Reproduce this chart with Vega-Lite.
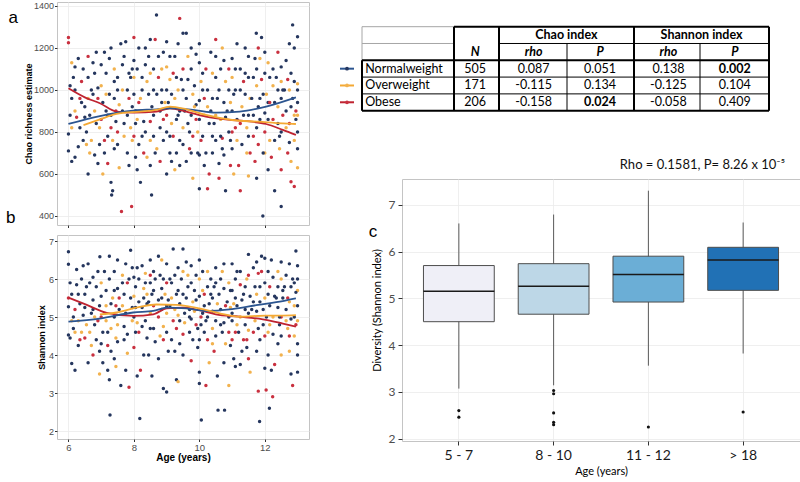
{
 "$schema": "https://vega.github.io/schema/vega-lite/v6.json",
 "background": "white",
 "padding": {"left": 5, "top": 1, "right": 0, "bottom": 0},
 "datasets": {
  "chao": [
   {"a":6.0,"v":1250,"g":"B"},{"a":6.0,"v":1225,"g":"B"},{"a":6.0,"v":790,"g":"N"},{"a":6.0,"v":710,"g":"N"},{"a":6.05,"v":880,"g":"N"},{"a":6.1,"v":1130,"g":"O"},{"a":6.1,"v":660,"g":"N"},
   {"a":6.2,"v":1110,"g":"N"},{"a":6.2,"v":1000,"g":"N"},{"a":6.25,"v":870,"g":"B"},{"a":6.3,"v":730,"g":"N"},{"a":6.2,"v":680,"g":"N"},
   {"a":6.45,"v":1100,"g":"N"},{"a":6.5,"v":920,"g":"N"},{"a":6.5,"v":870,"g":"N"},{"a":6.55,"v":800,"g":"N"},{"a":6.6,"v":1160,"g":"B"},{"a":6.6,"v":600,"g":"N"},{"a":6.55,"v":740,"g":"O"},{"a":6.6,"v":960,"g":"O"},
   {"a":6.75,"v":1130,"g":"N"},{"a":6.8,"v":1080,"g":"N"},{"a":6.8,"v":900,"g":"O"},{"a":6.85,"v":840,"g":"N"},{"a":6.9,"v":650,"g":"N"},{"a":6.8,"v":690,"g":"N"},
   {"a":7.0,"v":1120,"g":"N"},{"a":7.0,"v":1020,"g":"O"},{"a":7.05,"v":940,"g":"N"},{"a":7.0,"v":860,"g":"B"},{"a":7.1,"v":760,"g":"B"},{"a":7.05,"v":600,"g":"O"},{"a":7.1,"v":700,"g":"N"},
   {"a":7.25,"v":1150,"g":"N"},{"a":7.3,"v":1200,"g":"N"},{"a":7.25,"v":980,"g":"N"},{"a":7.3,"v":880,"g":"N"},{"a":7.3,"v":820,"g":"B"},{"a":7.3,"v":560,"g":"N"},{"a":7.35,"v":520,"g":"N"},{"a":7.32,"v":500,"g":"N"},{"a":7.2,"v":650,"g":"B"},
   {"a":7.5,"v":1060,"g":"N"},{"a":7.5,"v":1000,"g":"N"},{"a":7.55,"v":930,"g":"O"},{"a":7.5,"v":800,"g":"B"},{"a":7.5,"v":740,"g":"N"},{"a":7.6,"v":1220,"g":"N"},{"a":7.62,"v":421,"g":"B"},{"a":7.55,"v":630,"g":"O"},
   {"a":7.75,"v":1230,"g":"N"},{"a":7.8,"v":1000,"g":"N"},{"a":7.8,"v":880,"g":"N"},{"a":7.85,"v":960,"g":"B"},{"a":7.8,"v":700,"g":"N"},{"a":7.9,"v":820,"g":"O"},{"a":7.93,"v":445,"g":"B"},{"a":7.85,"v":640,"g":"N"},
   {"a":8.0,"v":1250,"g":"B"},{"a":8.0,"v":1060,"g":"O"},{"a":8.0,"v":980,"g":"N"},{"a":8.05,"v":900,"g":"N"},{"a":8.0,"v":780,"g":"B"},{"a":8.05,"v":680,"g":"N"},{"a":8.1,"v":620,"g":"N"},{"a":8.0,"v":1140,"g":"N"},
   {"a":8.25,"v":1060,"g":"N"},{"a":8.2,"v":960,"g":"O"},{"a":8.3,"v":850,"g":"N"},{"a":8.25,"v":780,"g":"N"},{"a":8.3,"v":700,"g":"B"},{"a":8.2,"v":560,"g":"N"},{"a":8.25,"v":1000,"g":"N"},
   {"a":8.5,"v":1240,"g":"N"},{"a":8.45,"v":1160,"g":"N"},{"a":8.5,"v":1080,"g":"O"},{"a":8.55,"v":920,"g":"N"},{"a":8.5,"v":850,"g":"B"},{"a":8.5,"v":760,"g":"O"},{"a":8.54,"v":500,"g":"N"},{"a":8.5,"v":640,"g":"N"},
   {"a":8.69,"v":1357,"g":"N"},{"a":8.75,"v":1160,"g":"N"},{"a":8.75,"v":1060,"g":"B"},{"a":8.7,"v":980,"g":"N"},{"a":8.8,"v":900,"g":"N"},{"a":8.8,"v":820,"g":"N"},{"a":8.7,"v":720,"g":"O"},{"a":8.8,"v":660,"g":"B"},
   {"a":9.0,"v":1230,"g":"N"},{"a":9.0,"v":1110,"g":"O"},{"a":9.0,"v":1000,"g":"N"},{"a":9.05,"v":940,"g":"N"},{"a":9.0,"v":880,"g":"B"},{"a":9.0,"v":800,"g":"N"},{"a":9.1,"v":700,"g":"N"},{"a":9.0,"v":600,"g":"N"},{"a":9.1,"v":1050,"g":"O"},
   {"a":9.25,"v":1160,"g":"N"},{"a":9.3,"v":1060,"g":"N"},{"a":9.25,"v":960,"g":"O"},{"a":9.3,"v":860,"g":"N"},{"a":9.2,"v":780,"g":"B"},{"a":9.3,"v":700,"g":"N"},{"a":9.25,"v":620,"g":"O"},
   {"a":9.4,"v":1341,"g":"B"},{"a":9.5,"v":1270,"g":"N"},{"a":9.6,"v":1270,"g":"N"},{"a":9.5,"v":1100,"g":"B"},{"a":9.5,"v":1000,"g":"N"},{"a":9.55,"v":900,"g":"N"},{"a":9.5,"v":820,"g":"O"},{"a":9.5,"v":740,"g":"N"},{"a":9.6,"v":660,"g":"N"},
   {"a":9.75,"v":1200,"g":"N"},{"a":9.75,"v":1100,"g":"N"},{"a":9.8,"v":980,"g":"O"},{"a":9.75,"v":880,"g":"N"},{"a":9.8,"v":780,"g":"B"},{"a":9.75,"v":700,"g":"N"},{"a":9.8,"v":580,"g":"O"},
   {"a":10.0,"v":1220,"g":"N"},{"a":10.0,"v":1130,"g":"N"},{"a":10.05,"v":1040,"g":"O"},{"a":10.0,"v":950,"g":"N"},{"a":10.0,"v":860,"g":"N"},{"a":10.05,"v":760,"g":"B"},{"a":10.0,"v":690,"g":"N"},{"a":10.0,"v":530,"g":"N"},
   {"a":10.2,"v":1100,"g":"B"},{"a":10.25,"v":1000,"g":"N"},{"a":10.25,"v":920,"g":"O"},{"a":10.3,"v":840,"g":"N"},{"a":10.2,"v":700,"g":"N"},{"a":10.3,"v":600,"g":"B"},{"a":10.25,"v":530,"g":"B"},
   {"a":10.5,"v":1240,"g":"B"},{"a":10.5,"v":1160,"g":"N"},{"a":10.5,"v":1060,"g":"N"},{"a":10.55,"v":960,"g":"N"},{"a":10.5,"v":880,"g":"O"},{"a":10.5,"v":760,"g":"N"},{"a":10.6,"v":650,"g":"N"},{"a":10.6,"v":580,"g":"B"},
   {"a":10.75,"v":1140,"g":"N"},{"a":10.8,"v":1040,"g":"O"},{"a":10.75,"v":940,"g":"N"},{"a":10.8,"v":870,"g":"N"},{"a":10.7,"v":770,"g":"B"},{"a":10.75,"v":690,"g":"N"},{"a":10.8,"v":520,"g":"N"},
   {"a":11.0,"v":1150,"g":"N"},{"a":11.0,"v":1060,"g":"O"},{"a":11.05,"v":980,"g":"N"},{"a":11.0,"v":900,"g":"N"},{"a":11.0,"v":800,"g":"B"},{"a":11.0,"v":720,"g":"N"},{"a":11.05,"v":600,"g":"O"},
   {"a":11.25,"v":1100,"g":"N"},{"a":11.25,"v":1000,"g":"N"},{"a":11.3,"v":920,"g":"O"},{"a":11.25,"v":840,"g":"B"},{"a":11.3,"v":740,"g":"N"},{"a":11.2,"v":640,"g":"B"},{"a":11.25,"v":520,"g":"B"},
   {"a":11.5,"v":1160,"g":"N"},{"a":11.5,"v":1060,"g":"N"},{"a":11.55,"v":960,"g":"O"},{"a":11.5,"v":880,"g":"N"},{"a":11.5,"v":780,"g":"N"},{"a":11.55,"v":700,"g":"B"},{"a":11.5,"v":590,"g":"O"},
   {"a":11.74,"v":1270,"g":"N"},{"a":11.8,"v":1200,"g":"B"},{"a":11.75,"v":1100,"g":"N"},{"a":11.75,"v":1020,"g":"O"},{"a":11.8,"v":920,"g":"N"},{"a":11.75,"v":820,"g":"N"},{"a":11.8,"v":740,"g":"B"},{"a":11.75,"v":580,"g":"N"},
   {"a":11.94,"v":400,"g":"N"},{"a":12.0,"v":1180,"g":"N"},{"a":12.0,"v":1080,"g":"N"},{"a":12.05,"v":980,"g":"O"},{"a":12.0,"v":890,"g":"N"},{"a":12.0,"v":800,"g":"B"},{"a":12.0,"v":700,"g":"O"},{"a":12.1,"v":620,"g":"N"},{"a":11.9,"v":1250,"g":"N"},
   {"a":12.25,"v":1100,"g":"N"},{"a":12.25,"v":1020,"g":"O"},{"a":12.3,"v":940,"g":"N"},{"a":12.25,"v":860,"g":"B"},{"a":12.3,"v":760,"g":"N"},{"a":12.2,"v":680,"g":"B"},{"a":12.3,"v":520,"g":"N"},
   {"a":12.5,"v":445,"g":"N"},{"a":12.5,"v":1110,"g":"N"},{"a":12.5,"v":1040,"g":"O"},{"a":12.5,"v":960,"g":"N"},{"a":12.55,"v":880,"g":"B"},{"a":12.5,"v":800,"g":"N"},{"a":12.45,"v":720,"g":"O"},{"a":12.5,"v":620,"g":"B"},
   {"a":12.85,"v":1310,"g":"N"},{"a":12.75,"v":1220,"g":"N"},{"a":12.8,"v":1080,"g":"N"},{"a":12.75,"v":1000,"g":"O"},{"a":12.8,"v":920,"g":"N"},{"a":12.8,"v":563,"g":"B"},{"a":12.75,"v":840,"g":"B"},{"a":12.75,"v":750,"g":"N"},{"a":12.8,"v":660,"g":"O"},
   {"a":13.0,"v":1254,"g":"N"},{"a":13.0,"v":1000,"g":"N"},{"a":13.0,"v":1030,"g":"O"},{"a":12.95,"v":900,"g":"B"},{"a":13.0,"v":800,"g":"N"},{"a":12.9,"v":540,"g":"B"},{"a":13.0,"v":720,"g":"N"},{"a":13.0,"v":630,"g":"O"},{"a":12.95,"v":860,"g":"N"},
   {"a":6.1,"v":960,"g":"N"},{"a":6.15,"v":1060,"g":"N"},{"a":6.35,"v":820,"g":"N"},{"a":6.4,"v":940,"g":"N"},{"a":6.4,"v":1040,"g":"B"},{"a":6.65,"v":880,"g":"N"},{"a":6.7,"v":1000,"g":"N"},{"a":6.7,"v":760,"g":"O"},{"a":6.9,"v":1010,"g":"N"},{"a":6.95,"v":820,"g":"O"},
   {"a":7.15,"v":900,"g":"N"},{"a":7.15,"v":1080,"g":"N"},{"a":7.2,"v":780,"g":"N"},{"a":7.4,"v":960,"g":"N"},{"a":7.4,"v":1100,"g":"O"},{"a":7.45,"v":850,"g":"N"},{"a":7.65,"v":1120,"g":"N"},{"a":7.65,"v":900,"g":"N"},{"a":7.7,"v":780,"g":"O"},{"a":7.95,"v":1100,"g":"N"},
   {"a":7.95,"v":920,"g":"N"},{"a":8.1,"v":860,"g":"O"},{"a":8.15,"v":1200,"g":"N"},{"a":8.15,"v":740,"g":"N"},{"a":8.35,"v":1120,"g":"N"},{"a":8.4,"v":900,"g":"N"},{"a":8.4,"v":680,"g":"O"},{"a":8.6,"v":1000,"g":"N"},{"a":8.6,"v":780,"g":"N"},{"a":8.65,"v":1240,"g":"B"},
   {"a":8.85,"v":1100,"g":"O"},{"a":8.85,"v":940,"g":"N"},{"a":8.9,"v":760,"g":"N"},{"a":9.1,"v":1160,"g":"N"},{"a":9.15,"v":840,"g":"O"},{"a":9.15,"v":660,"g":"N"},{"a":9.35,"v":1220,"g":"N"},{"a":9.4,"v":900,"g":"N"},{"a":9.4,"v":760,"g":"N"},{"a":9.65,"v":1050,"g":"N"},
   {"a":9.65,"v":840,"g":"N"},{"a":9.7,"v":720,"g":"B"},{"a":9.9,"v":1170,"g":"N"},{"a":9.9,"v":930,"g":"N"},{"a":9.95,"v":800,"g":"O"},{"a":10.1,"v":1000,"g":"N"},{"a":10.15,"v":880,"g":"O"},{"a":10.15,"v":640,"g":"N"},{"a":10.35,"v":1180,"g":"N"},{"a":10.4,"v":960,"g":"N"},
   {"a":10.4,"v":780,"g":"N"},{"a":10.65,"v":1100,"g":"N"},{"a":10.65,"v":860,"g":"O"},{"a":10.7,"v":720,"g":"N"},{"a":10.9,"v":1000,"g":"N"},{"a":10.9,"v":800,"g":"N"},{"a":10.95,"v":640,"g":"B"},{"a":11.1,"v":1100,"g":"N"},{"a":11.15,"v":860,"g":"N"},{"a":11.15,"v":760,"g":"O"},
   {"a":11.4,"v":1200,"g":"N"},{"a":11.4,"v":980,"g":"N"},{"a":11.45,"v":820,"g":"O"},{"a":11.65,"v":1060,"g":"N"},{"a":11.65,"v":880,"g":"N"},{"a":11.7,"v":660,"g":"B"},{"a":11.85,"v":960,"g":"N"},{"a":11.85,"v":1150,"g":"O"},{"a":12.1,"v":940,"g":"N"},{"a":12.15,"v":1060,"g":"N"},
   {"a":12.15,"v":760,"g":"O"},{"a":12.4,"v":1000,"g":"N"},{"a":12.4,"v":840,"g":"N"},{"a":12.4,"v":1180,"g":"B"},{"a":12.65,"v":1140,"g":"N"},{"a":12.65,"v":900,"g":"N"},{"a":12.7,"v":700,"g":"B"},{"a":12.9,"v":1040,"g":"N"},{"a":12.9,"v":760,"g":"O"},{"a":12.9,"v":1200,"g":"N"},
   {"a":6.05,"v":1020,"g":"N"},{"a":6.1,"v":820,"g":"O"},{"a":6.3,"v":1150,"g":"N"},{"a":6.35,"v":960,"g":"B"},{"a":6.45,"v":760,"g":"N"},{"a":6.6,"v":1060,"g":"N"},{"a":6.65,"v":700,"g":"O"},{"a":6.85,"v":1180,"g":"N"},{"a":6.9,"v":960,"g":"B"},{"a":6.95,"v":740,"g":"N"},
   {"a":7.1,"v":1180,"g":"N"},{"a":7.15,"v":980,"g":"O"},{"a":7.2,"v":880,"g":"N"},{"a":7.4,"v":1040,"g":"N"},{"a":7.4,"v":720,"g":"N"},{"a":7.45,"v":900,"g":"B"},{"a":7.65,"v":1000,"g":"O"},{"a":7.7,"v":840,"g":"N"},{"a":7.7,"v":1160,"g":"N"},{"a":7.9,"v":1060,"g":"N"},
   {"a":7.95,"v":760,"g":"O"},{"a":8.05,"v":840,"g":"N"},{"a":8.1,"v":1100,"g":"N"},{"a":8.15,"v":940,"g":"B"},{"a":8.35,"v":1200,"g":"N"},{"a":8.35,"v":800,"g":"N"},{"a":8.4,"v":1040,"g":"O"},{"a":8.6,"v":880,"g":"N"},{"a":8.6,"v":1100,"g":"N"},{"a":8.65,"v":700,"g":"N"},
   {"a":8.85,"v":1000,"g":"N"},{"a":8.9,"v":1180,"g":"N"},{"a":8.9,"v":860,"g":"B"},{"a":9.1,"v":780,"g":"N"},{"a":9.15,"v":980,"g":"N"},{"a":9.2,"v":1080,"g":"B"},{"a":9.35,"v":880,"g":"N"},{"a":9.35,"v":1000,"g":"O"},{"a":9.4,"v":640,"g":"N"},{"a":9.6,"v":960,"g":"N"},
   {"a":9.65,"v":1160,"g":"O"},{"a":9.7,"v":800,"g":"N"},{"a":9.85,"v":1020,"g":"N"},{"a":9.9,"v":860,"g":"B"},{"a":9.95,"v":700,"g":"N"},{"a":10.1,"v":1080,"g":"N"},{"a":10.1,"v":780,"g":"N"},{"a":10.15,"v":960,"g":"B"},{"a":10.35,"v":900,"g":"N"},{"a":10.4,"v":1080,"g":"O"},
   {"a":10.4,"v":700,"g":"N"},{"a":10.6,"v":1000,"g":"N"},{"a":10.65,"v":780,"g":"N"},{"a":10.7,"v":1200,"g":"O"},{"a":10.85,"v":900,"g":"N"},{"a":10.9,"v":1100,"g":"B"},{"a":10.95,"v":760,"g":"N"},{"a":11.1,"v":1000,"g":"N"},{"a":11.1,"v":820,"g":"B"},{"a":11.15,"v":1220,"g":"N"},
   {"a":11.35,"v":880,"g":"N"},{"a":11.4,"v":1080,"g":"N"},{"a":11.45,"v":700,"g":"O"},{"a":11.6,"v":960,"g":"N"},{"a":11.65,"v":780,"g":"B"},{"a":11.7,"v":1150,"g":"N"},{"a":11.85,"v":860,"g":"N"},{"a":11.9,"v":1050,"g":"B"},{"a":11.95,"v":700,"g":"N"},{"a":12.1,"v":860,"g":"N"},
   {"a":12.1,"v":1130,"g":"O"},{"a":12.15,"v":940,"g":"B"},{"a":12.35,"v":1060,"g":"N"},{"a":12.4,"v":920,"g":"O"},{"a":12.45,"v":780,"g":"N"},{"a":12.6,"v":1000,"g":"N"},{"a":12.65,"v":820,"g":"O"},{"a":12.7,"v":1050,"g":"B"},{"a":12.85,"v":960,"g":"N"},{"a":12.9,"v":880,"g":"O"},
   {"a":6.2,"v":900,"g":"O"},{"a":6.75,"v":980,"g":"N"},{"a":7.35,"v":760,"g":"O"},{"a":7.85,"v":1080,"g":"N"},{"a":8.45,"v":980,"g":"N"},{"a":8.95,"v":940,"g":"O"},{"a":9.45,"v":1050,"g":"N"},{"a":9.85,"v":920,"g":"O"},{"a":10.45,"v":840,"g":"N"},{"a":10.95,"v":940,"g":"O"},
   {"a":11.35,"v":1040,"g":"B"},{"a":11.95,"v":980,"g":"N"},{"a":12.55,"v":1000,"g":"N"},{"a":13.0,"v":940,"g":"N"},{"a":13.0,"v":880,"g":"O"}
  ],
  "chaoFit": [
   {"a":6.0,"v":1008,"g":"B"},{"a":6.5,"v":965,"g":"B"},{"a":6.96,"v":937,"g":"B"},{"a":7.47,"v":897,"g":"B"},{"a":7.98,"v":892,"g":"B"},{"a":8.69,"v":897,"g":"B"},{"a":9.1,"v":913,"g":"B"},{"a":9.6,"v":897,"g":"B"},{"a":10.2,"v":873,"g":"B"},{"a":11.0,"v":857,"g":"B"},{"a":11.6,"v":849,"g":"B"},{"a":12.04,"v":838,"g":"B"},{"a":12.55,"v":810,"g":"B"},{"a":12.95,"v":786,"g":"B"},
   {"a":6.0,"v":838,"g":"N"},{"a":6.96,"v":876,"g":"N"},{"a":7.98,"v":902,"g":"N"},{"a":8.69,"v":908,"g":"N"},{"a":9.1,"v":913,"g":"N"},{"a":9.8,"v":905,"g":"N"},{"a":10.52,"v":892,"g":"N"},{"a":11.23,"v":897,"g":"N"},{"a":12.04,"v":921,"g":"N"},{"a":12.95,"v":965,"g":"N"},
   {"a":6.46,"v":833,"g":"O"},{"a":6.96,"v":860,"g":"O"},{"a":7.47,"v":886,"g":"O"},{"a":8.18,"v":897,"g":"O"},{"a":8.69,"v":905,"g":"O"},{"a":9.1,"v":921,"g":"O"},{"a":9.6,"v":908,"g":"O"},{"a":10.2,"v":881,"g":"O"},{"a":11.0,"v":857,"g":"O"},{"a":11.8,"v":849,"g":"O"},{"a":12.55,"v":841,"g":"O"},{"a":12.95,"v":838,"g":"O"}
  ],
  "shan": [
   {"a":6.0,"v":6.72,"g":"N"},{"a":6.0,"v":6.39,"g":"N"},{"a":6.0,"v":5.5,"g":"B"},{"a":6.0,"v":5.27,"g":"N"},{"a":6.0,"v":4.53,"g":"N"},{"a":6.05,"v":4.45,"g":"N"},{"a":6.1,"v":3.78,"g":"N"},{"a":6.15,"v":5.0,"g":"N"},
   {"a":6.2,"v":3.6,"g":"N"},{"a":6.25,"v":6.25,"g":"N"},{"a":6.25,"v":5.85,"g":"N"},{"a":6.3,"v":4.9,"g":"O"},{"a":6.3,"v":4.25,"g":"N"},{"a":6.2,"v":5.2,"g":"B"},
   {"a":6.45,"v":6.35,"g":"N"},{"a":6.5,"v":5.6,"g":"N"},{"a":6.5,"v":5.25,"g":"N"},{"a":6.55,"v":4.8,"g":"O"},{"a":6.5,"v":4.45,"g":"B"},{"a":6.6,"v":3.8,"g":"N"},{"a":6.55,"v":5.8,"g":"N"},
   {"a":6.75,"v":6.05,"g":"N"},{"a":6.75,"v":5.45,"g":"N"},{"a":6.8,"v":4.8,"g":"N"},{"a":6.75,"v":4.0,"g":"B"},{"a":6.8,"v":5.0,"g":"O"},{"a":6.85,"v":4.4,"g":"N"},
   {"a":6.96,"v":6.59,"g":"N"},{"a":7.0,"v":5.9,"g":"O"},{"a":7.0,"v":5.55,"g":"N"},{"a":7.0,"v":5.0,"g":"B"},{"a":7.0,"v":4.3,"g":"N"},{"a":6.95,"v":3.5,"g":"O"},{"a":7.05,"v":3.8,"g":"N"},{"a":7.05,"v":4.6,"g":"N"},
   {"a":7.25,"v":6.6,"g":"N"},{"a":7.25,"v":6.0,"g":"N"},{"a":7.27,"v":2.42,"g":"N"},{"a":7.3,"v":5.35,"g":"N"},{"a":7.2,"v":4.25,"g":"B"},{"a":7.3,"v":4.7,"g":"O"},{"a":7.25,"v":3.35,"g":"N"},{"a":7.3,"v":4.1,"g":"N"},
   {"a":7.5,"v":6.5,"g":"N"},{"a":7.5,"v":5.75,"g":"N"},{"a":7.55,"v":5.2,"g":"N"},{"a":7.5,"v":4.8,"g":"O"},{"a":7.5,"v":4.35,"g":"N"},{"a":7.45,"v":3.7,"g":"O"},{"a":7.6,"v":3.2,"g":"N"},{"a":7.55,"v":5.5,"g":"B"},
   {"a":7.75,"v":6.4,"g":"N"},{"a":7.8,"v":5.9,"g":"B"},{"a":7.75,"v":5.1,"g":"N"},{"a":7.8,"v":4.55,"g":"N"},{"a":7.75,"v":3.6,"g":"N"},{"a":7.8,"v":4.05,"g":"O"},{"a":7.85,"v":3.15,"g":"B"},
   {"a":7.9,"v":6.76,"g":"N"},{"a":8.0,"v":6.05,"g":"N"},{"a":8.0,"v":5.55,"g":"O"},{"a":8.0,"v":5.0,"g":"N"},{"a":8.05,"v":4.6,"g":"N"},{"a":8.0,"v":4.2,"g":"B"},{"a":8.1,"v":3.45,"g":"N"},{"a":8.05,"v":5.8,"g":"N"},
   {"a":8.18,"v":2.33,"g":"N"},{"a":8.25,"v":6.35,"g":"N"},{"a":8.3,"v":5.75,"g":"O"},{"a":8.25,"v":5.25,"g":"N"},{"a":8.25,"v":4.75,"g":"N"},{"a":8.3,"v":4.0,"g":"N"},{"a":8.2,"v":3.6,"g":"B"},{"a":8.3,"v":5.5,"g":"N"},
   {"a":8.5,"v":6.5,"g":"N"},{"a":8.5,"v":6.1,"g":"B"},{"a":8.55,"v":5.6,"g":"N"},{"a":8.5,"v":5.1,"g":"O"},{"a":8.5,"v":4.7,"g":"N"},{"a":8.45,"v":4.0,"g":"N"},{"a":8.55,"v":3.45,"g":"N"},{"a":8.5,"v":5.9,"g":"N"},
   {"a":8.75,"v":6.6,"g":"N"},{"a":8.8,"v":6.1,"g":"N"},{"a":8.75,"v":5.45,"g":"N"},{"a":8.75,"v":5.0,"g":"B"},{"a":8.8,"v":4.5,"g":"O"},{"a":8.75,"v":3.9,"g":"N"},{"a":8.85,"v":6.5,"g":"O"},
   {"a":8.9,"v":3.12,"g":"N"},{"a":9.0,"v":3.03,"g":"N"},{"a":9.0,"v":6.4,"g":"N"},{"a":9.0,"v":5.9,"g":"B"},{"a":9.05,"v":5.45,"g":"N"},{"a":9.0,"v":5.1,"g":"O"},{"a":9.0,"v":4.6,"g":"N"},{"a":9.05,"v":4.1,"g":"N"},{"a":9.0,"v":5.3,"g":"N"},
   {"a":9.2,"v":6.79,"g":"N"},{"a":9.25,"v":6.1,"g":"N"},{"a":9.3,"v":5.6,"g":"N"},{"a":9.25,"v":5.2,"g":"O"},{"a":9.3,"v":4.7,"g":"B"},{"a":9.25,"v":4.1,"g":"N"},{"a":9.3,"v":3.35,"g":"N"},{"a":9.35,"v":3.3,"g":"O"},
   {"a":9.5,"v":6.79,"g":"N"},{"a":9.5,"v":6.2,"g":"O"},{"a":9.5,"v":5.6,"g":"N"},{"a":9.55,"v":5.1,"g":"N"},{"a":9.5,"v":4.55,"g":"B"},{"a":9.5,"v":4.0,"g":"N"},{"a":9.6,"v":6.45,"g":"N"},{"a":9.55,"v":4.85,"g":"O"},
   {"a":9.75,"v":6.35,"g":"N"},{"a":9.75,"v":5.9,"g":"N"},{"a":9.8,"v":5.4,"g":"O"},{"a":9.75,"v":4.95,"g":"N"},{"a":9.8,"v":4.4,"g":"N"},{"a":9.75,"v":3.85,"g":"B"},{"a":9.7,"v":5.2,"g":"N"},
   {"a":10.0,"v":6.5,"g":"N"},{"a":10.0,"v":6.0,"g":"O"},{"a":10.0,"v":5.55,"g":"N"},{"a":10.05,"v":5.0,"g":"B"},{"a":10.0,"v":4.4,"g":"N"},{"a":10.0,"v":3.55,"g":"N"},{"a":10.0,"v":3.25,"g":"N"},{"a":10.06,"v":2.29,"g":"N"},{"a":10.05,"v":4.8,"g":"N"},
   {"a":10.25,"v":6.2,"g":"O"},{"a":10.25,"v":5.8,"g":"N"},{"a":10.3,"v":5.35,"g":"N"},{"a":10.2,"v":4.9,"g":"N"},{"a":10.25,"v":4.4,"g":"B"},{"a":10.3,"v":3.8,"g":"O"},{"a":10.2,"v":3.2,"g":"B"},{"a":10.25,"v":5.0,"g":"N"},
   {"a":10.5,"v":6.3,"g":"N"},{"a":10.5,"v":5.9,"g":"N"},{"a":10.55,"v":5.35,"g":"O"},{"a":10.5,"v":4.9,"g":"N"},{"a":10.5,"v":4.5,"g":"N"},{"a":10.45,"v":4.1,"g":"B"},{"a":10.57,"v":2.55,"g":"N"},{"a":10.55,"v":3.45,"g":"N"},
   {"a":10.75,"v":6.4,"g":"N"},{"a":10.77,"v":2.55,"g":"N"},{"a":10.75,"v":5.75,"g":"N"},{"a":10.8,"v":5.3,"g":"B"},{"a":10.75,"v":4.85,"g":"N"},{"a":10.8,"v":4.3,"g":"O"},{"a":10.75,"v":3.8,"g":"N"},{"a":10.9,"v":3.2,"g":"O"},
   {"a":11.0,"v":6.4,"g":"N"},{"a":11.0,"v":5.7,"g":"N"},{"a":11.05,"v":5.35,"g":"O"},{"a":11.0,"v":4.9,"g":"N"},{"a":11.0,"v":4.4,"g":"B"},{"a":11.05,"v":3.9,"g":"N"},{"a":11.1,"v":3.7,"g":"N"},{"a":11.0,"v":5.1,"g":"N"},
   {"a":11.25,"v":6.2,"g":"N"},{"a":11.25,"v":5.85,"g":"B"},{"a":11.3,"v":5.45,"g":"N"},{"a":11.25,"v":5.0,"g":"O"},{"a":11.2,"v":4.6,"g":"N"},{"a":11.3,"v":4.1,"g":"N"},{"a":11.25,"v":3.75,"g":"N"},
   {"a":11.5,"v":6.65,"g":"N"},{"a":11.5,"v":6.1,"g":"B"},{"a":11.55,"v":5.55,"g":"N"},{"a":11.5,"v":5.1,"g":"N"},{"a":11.5,"v":4.65,"g":"O"},{"a":11.45,"v":4.2,"g":"N"},{"a":11.55,"v":3.55,"g":"O"},{"a":11.5,"v":3.9,"g":"B"},
   {"a":11.75,"v":6.45,"g":"N"},{"a":11.8,"v":6.15,"g":"B"},{"a":11.75,"v":5.6,"g":"O"},{"a":11.75,"v":5.15,"g":"N"},{"a":11.8,"v":4.7,"g":"N"},{"a":11.75,"v":4.1,"g":"N"},{"a":11.8,"v":3.05,"g":"B"},{"a":11.84,"v":2.25,"g":"N"},
   {"a":11.9,"v":6.6,"g":"N"},{"a":12.0,"v":6.55,"g":"N"},{"a":12.04,"v":3.08,"g":"B"},{"a":12.0,"v":5.9,"g":"N"},{"a":12.0,"v":5.5,"g":"O"},{"a":12.05,"v":5.0,"g":"N"},{"a":12.0,"v":4.5,"g":"B"},{"a":12.0,"v":3.65,"g":"N"},{"a":12.1,"v":4.0,"g":"N"},
   {"a":12.14,"v":2.6,"g":"N"},{"a":12.24,"v":2.9,"g":"B"},{"a":12.2,"v":6.5,"g":"N"},{"a":12.25,"v":6.05,"g":"N"},{"a":12.3,"v":5.55,"g":"N"},{"a":12.25,"v":5.0,"g":"O"},{"a":12.25,"v":4.55,"g":"N"},{"a":12.3,"v":3.75,"g":"B"},{"a":12.2,"v":3.6,"g":"N"},
   {"a":12.5,"v":6.45,"g":"N"},{"a":12.5,"v":6.0,"g":"O"},{"a":12.55,"v":5.5,"g":"N"},{"a":12.5,"v":5.0,"g":"B"},{"a":12.5,"v":4.5,"g":"N"},{"a":12.5,"v":4.0,"g":"O"},{"a":12.45,"v":4.8,"g":"N"},
   {"a":12.75,"v":6.4,"g":"N"},{"a":12.8,"v":5.8,"g":"N"},{"a":12.75,"v":5.4,"g":"O"},{"a":12.8,"v":4.95,"g":"N"},{"a":12.75,"v":4.5,"g":"B"},{"a":12.8,"v":3.5,"g":"N"},{"a":12.85,"v":3.2,"g":"B"},{"a":12.75,"v":4.1,"g":"O"},
   {"a":12.95,"v":6.74,"g":"N"},{"a":13.0,"v":6.35,"g":"N"},{"a":13.0,"v":5.7,"g":"O"},{"a":13.0,"v":5.3,"g":"N"},{"a":12.95,"v":4.8,"g":"B"},{"a":13.0,"v":4.3,"g":"N"},{"a":13.0,"v":4.0,"g":"N"},{"a":13.0,"v":3.55,"g":"N"},{"a":12.95,"v":5.65,"g":"N"},
   {"a":6.1,"v":5.6,"g":"N"},{"a":6.15,"v":4.7,"g":"N"},{"a":6.35,"v":5.35,"g":"N"},{"a":6.4,"v":6.0,"g":"N"},{"a":6.4,"v":4.6,"g":"O"},{"a":6.65,"v":5.9,"g":"N"},{"a":6.7,"v":5.1,"g":"N"},{"a":6.7,"v":4.25,"g":"O"},{"a":6.9,"v":6.2,"g":"N"},{"a":6.95,"v":5.3,"g":"N"},
   {"a":7.15,"v":5.7,"g":"N"},{"a":7.15,"v":4.9,"g":"O"},{"a":7.2,"v":3.6,"g":"N"},{"a":7.4,"v":6.2,"g":"N"},{"a":7.4,"v":5.0,"g":"N"},{"a":7.45,"v":4.45,"g":"O"},{"a":7.65,"v":5.9,"g":"N"},{"a":7.65,"v":5.3,"g":"O"},{"a":7.7,"v":4.75,"g":"N"},{"a":7.95,"v":6.3,"g":"N"},
   {"a":7.95,"v":5.25,"g":"N"},{"a":8.1,"v":4.85,"g":"O"},{"a":8.15,"v":6.0,"g":"N"},{"a":8.15,"v":5.4,"g":"N"},{"a":8.35,"v":6.15,"g":"O"},{"a":8.4,"v":5.35,"g":"N"},{"a":8.4,"v":4.45,"g":"N"},{"a":8.6,"v":6.2,"g":"N"},{"a":8.6,"v":5.3,"g":"B"},{"a":8.65,"v":4.35,"g":"N"},
   {"a":8.85,"v":5.75,"g":"N"},{"a":8.85,"v":5.2,"g":"N"},{"a":8.9,"v":4.75,"g":"O"},{"a":9.1,"v":6.0,"g":"N"},{"a":9.15,"v":5.5,"g":"O"},{"a":9.15,"v":4.4,"g":"N"},{"a":9.35,"v":6.3,"g":"N"},{"a":9.4,"v":5.35,"g":"N"},{"a":9.4,"v":4.9,"g":"N"},{"a":9.65,"v":5.8,"g":"N"},
   {"a":9.65,"v":5.25,"g":"O"},{"a":9.7,"v":4.6,"g":"N"},{"a":9.9,"v":6.1,"g":"N"},{"a":9.9,"v":5.45,"g":"N"},{"a":9.95,"v":4.7,"g":"N"},{"a":10.1,"v":5.7,"g":"O"},{"a":10.15,"v":5.3,"g":"N"},{"a":10.15,"v":4.6,"g":"N"},{"a":10.35,"v":6.0,"g":"N"},{"a":10.4,"v":5.15,"g":"N"},
   {"a":10.4,"v":4.7,"g":"O"},{"a":10.65,"v":6.0,"g":"N"},{"a":10.65,"v":5.2,"g":"N"},{"a":10.7,"v":4.6,"g":"N"},{"a":10.9,"v":5.9,"g":"O"},{"a":10.9,"v":5.0,"g":"N"},{"a":10.95,"v":4.25,"g":"N"},{"a":11.1,"v":6.0,"g":"N"},{"a":11.15,"v":5.3,"g":"N"},{"a":11.15,"v":4.8,"g":"O"},
   {"a":11.4,"v":5.8,"g":"N"},{"a":11.4,"v":5.2,"g":"N"},{"a":11.45,"v":4.4,"g":"B"},{"a":11.65,"v":6.3,"g":"N"},{"a":11.65,"v":5.4,"g":"N"},{"a":11.7,"v":4.9,"g":"O"},{"a":11.85,"v":5.8,"g":"N"},{"a":11.85,"v":4.4,"g":"N"},{"a":12.1,"v":6.2,"g":"N"},{"a":12.15,"v":5.3,"g":"N"},
   {"a":12.15,"v":4.8,"g":"O"},{"a":12.4,"v":5.8,"g":"N"},{"a":12.4,"v":5.25,"g":"N"},{"a":12.4,"v":4.3,"g":"N"},{"a":12.65,"v":6.1,"g":"N"},{"a":12.65,"v":5.2,"g":"N"},{"a":12.7,"v":4.7,"g":"O"},{"a":12.9,"v":5.9,"g":"N"},{"a":12.9,"v":5.0,"g":"N"},{"a":12.9,"v":4.5,"g":"O"},
   {"a":6.05,"v":5.9,"g":"N"},{"a":6.1,"v":4.9,"g":"O"},{"a":6.3,"v":5.6,"g":"N"},{"a":6.35,"v":4.4,"g":"B"},{"a":6.45,"v":5.05,"g":"N"},{"a":6.6,"v":6.4,"g":"N"},{"a":6.65,"v":4.6,"g":"O"},{"a":6.85,"v":5.8,"g":"N"},{"a":6.9,"v":4.9,"g":"B"},{"a":6.95,"v":4.1,"g":"N"},
   {"a":7.1,"v":6.2,"g":"N"},{"a":7.15,"v":5.3,"g":"O"},{"a":7.2,"v":4.6,"g":"N"},{"a":7.4,"v":5.7,"g":"N"},{"a":7.4,"v":3.9,"g":"N"},{"a":7.45,"v":5.3,"g":"B"},{"a":7.65,"v":6.1,"g":"O"},{"a":7.7,"v":5.6,"g":"N"},{"a":7.7,"v":4.4,"g":"N"},{"a":7.9,"v":5.5,"g":"N"},
   {"a":7.95,"v":4.9,"g":"O"},{"a":8.05,"v":5.25,"g":"N"},{"a":8.1,"v":6.3,"g":"N"},{"a":8.15,"v":4.6,"g":"B"},{"a":8.35,"v":5.9,"g":"N"},{"a":8.35,"v":4.9,"g":"N"},{"a":8.4,"v":5.6,"g":"O"},{"a":8.6,"v":5.7,"g":"N"},{"a":8.6,"v":4.7,"g":"N"},{"a":8.65,"v":6.0,"g":"N"},
   {"a":8.85,"v":5.5,"g":"N"},{"a":8.9,"v":6.0,"g":"N"},{"a":8.9,"v":4.4,"g":"B"},{"a":9.1,"v":5.3,"g":"N"},{"a":9.15,"v":5.9,"g":"N"},{"a":9.2,"v":4.9,"g":"B"},{"a":9.35,"v":5.7,"g":"N"},{"a":9.35,"v":5.05,"g":"O"},{"a":9.4,"v":4.3,"g":"N"},{"a":9.6,"v":5.5,"g":"N"},
   {"a":9.65,"v":6.1,"g":"O"},{"a":9.7,"v":5.0,"g":"N"},{"a":9.85,"v":5.7,"g":"N"},{"a":9.9,"v":4.8,"g":"B"},{"a":9.95,"v":4.2,"g":"N"},{"a":10.1,"v":6.2,"g":"N"},{"a":10.1,"v":5.1,"g":"N"},{"a":10.15,"v":5.6,"g":"B"},{"a":10.35,"v":5.6,"g":"N"},{"a":10.4,"v":4.3,"g":"O"},
   {"a":10.4,"v":5.5,"g":"N"},{"a":10.6,"v":5.6,"g":"N"},{"a":10.65,"v":4.8,"g":"N"},{"a":10.7,"v":6.2,"g":"O"},{"a":10.85,"v":5.4,"g":"N"},{"a":10.9,"v":4.6,"g":"B"},{"a":10.95,"v":5.7,"g":"N"},{"a":11.1,"v":5.5,"g":"N"},{"a":11.1,"v":4.6,"g":"B"},{"a":11.15,"v":6.2,"g":"N"},
   {"a":11.35,"v":5.6,"g":"N"},{"a":11.4,"v":4.8,"g":"N"},{"a":11.45,"v":6.0,"g":"O"},{"a":11.6,"v":5.2,"g":"N"},{"a":11.65,"v":4.6,"g":"B"},{"a":11.7,"v":5.8,"g":"N"},{"a":11.85,"v":5.4,"g":"N"},{"a":11.9,"v":6.2,"g":"B"},{"a":11.95,"v":4.8,"g":"N"},{"a":12.1,"v":5.6,"g":"N"},
   {"a":12.1,"v":4.6,"g":"O"},{"a":12.15,"v":5.8,"g":"B"},{"a":12.35,"v":5.5,"g":"N"},{"a":12.4,"v":6.2,"g":"O"},{"a":12.45,"v":5.0,"g":"N"},{"a":12.6,"v":5.8,"g":"N"},{"a":12.65,"v":4.9,"g":"O"},{"a":12.7,"v":5.5,"g":"B"},{"a":12.85,"v":6.0,"g":"N"},{"a":12.9,"v":5.3,"g":"O"},
   {"a":6.2,"v":4.6,"g":"O"},{"a":6.75,"v":5.2,"g":"N"},{"a":7.35,"v":5.5,"g":"O"},{"a":7.85,"v":6.0,"g":"N"},{"a":8.45,"v":5.4,"g":"N"},{"a":8.95,"v":5.6,"g":"O"},{"a":9.45,"v":6.0,"g":"N"},{"a":9.85,"v":5.15,"g":"O"},{"a":10.45,"v":5.8,"g":"N"},{"a":10.95,"v":5.25,"g":"O"},
   {"a":11.35,"v":4.4,"g":"B"},{"a":11.95,"v":5.2,"g":"N"},{"a":12.55,"v":5.7,"g":"N"},{"a":13.0,"v":6.0,"g":"N"},{"a":13.0,"v":4.9,"g":"O"}
  ],
  "shanFit": [
   {"a":6.0,"v":5.51,"g":"B"},{"a":6.56,"v":5.32,"g":"B"},{"a":7.17,"v":5.11,"g":"B"},{"a":7.98,"v":5.03,"g":"B"},{"a":8.59,"v":5.07,"g":"B"},{"a":9.0,"v":5.23,"g":"B"},{"a":9.5,"v":5.25,"g":"B"},{"a":10.0,"v":5.18,"g":"B"},{"a":10.5,"v":5.07,"g":"B"},{"a":11.23,"v":5.01,"g":"B"},{"a":11.94,"v":4.94,"g":"B"},{"a":12.55,"v":4.83,"g":"B"},{"a":12.95,"v":4.75,"g":"B"},
   {"a":6.0,"v":4.88,"g":"N"},{"a":6.96,"v":4.96,"g":"N"},{"a":7.98,"v":5.12,"g":"N"},{"a":8.59,"v":5.16,"g":"N"},{"a":9.0,"v":5.25,"g":"N"},{"a":9.6,"v":5.23,"g":"N"},{"a":10.2,"v":5.16,"g":"N"},{"a":11.0,"v":5.21,"g":"N"},{"a":11.8,"v":5.32,"g":"N"},{"a":12.55,"v":5.42,"g":"N"},{"a":12.95,"v":5.49,"g":"N"},
   {"a":6.96,"v":5.07,"g":"O"},{"a":7.47,"v":5.12,"g":"O"},{"a":8.18,"v":5.27,"g":"O"},{"a":8.69,"v":5.33,"g":"O"},{"a":9.3,"v":5.32,"g":"O"},{"a":10.0,"v":5.23,"g":"O"},{"a":10.62,"v":5.1,"g":"O"},{"a":11.23,"v":5.01,"g":"O"},{"a":12.04,"v":5.04,"g":"O"},{"a":12.55,"v":5.04,"g":"O"},{"a":12.95,"v":5.05,"g":"O"}
  ],
  "boxes": [
   {"cat":"5 - 7","lo":3.07,"q1":4.5,"med":5.15,"q3":5.7,"hi":6.6},
   {"cat":"8 - 10","lo":3.14,"q1":4.66,"med":5.26,"q3":5.74,"hi":6.79},
   {"cat":"11 - 12","lo":3.56,"q1":4.92,"med":5.51,"q3":5.9,"hi":7.3},
   {"cat":"> 18","lo":3.82,"q1":5.17,"med":5.82,"q3":6.09,"hi":6.62}
  ],
  "outl": [
   {"cat":"5 - 7","v":2.6},{"cat":"5 - 7","v":2.46},
   {"cat":"8 - 10","v":3.03},{"cat":"8 - 10","v":2.96},{"cat":"8 - 10","v":2.55},{"cat":"8 - 10","v":2.35},{"cat":"8 - 10","v":2.3},
   {"cat":"11 - 12","v":2.25},
   {"cat":"> 18","v":2.57}
  ],
  "tcells": [
   {"k":"head","t":"Chao index","x1":41.1,"r":0.5},
   {"k":"head","t":"Shannon index","x1":74.9,"r":0.5},
   {"k":"sub","t":"N","x1":18.3,"r":1.5},
   {"k":"sub","t":"rho","x1":32.9,"r":1.5},
   {"k":"sub","t":"P","x1":49.5,"r":1.5},
   {"k":"sub","t":"rho","x1":66.6,"r":1.5},
   {"k":"sub","t":"P","x1":83.2,"r":1.5},
   {"k":"lab","t":"Normalweight","x1":-9.2,"r":2.5},
   {"k":"lab","t":"Overweight","x1":-9.2,"r":3.5},
   {"k":"lab","t":"Obese","x1":-9.2,"r":4.5},
   {"k":"val","t":"505","x1":18.3,"r":2.5},
   {"k":"val","t":"0.087","x1":32.9,"r":2.5},
   {"k":"val","t":"0.051","x1":49.5,"r":2.5},
   {"k":"val","t":"0.138","x1":66.6,"r":2.5},
   {"k":"sig","t":"0.002","x1":83.2,"r":2.5},
   {"k":"val","t":"171","x1":18.3,"r":3.5},
   {"k":"val","t":"-0.115","x1":32.9,"r":3.5},
   {"k":"val","t":"0.134","x1":49.5,"r":3.5},
   {"k":"val","t":"-0.125","x1":66.6,"r":3.5},
   {"k":"val","t":"0.104","x1":83.2,"r":3.5},
   {"k":"val","t":"206","x1":18.3,"r":4.5},
   {"k":"val","t":"-0.158","x1":32.9,"r":4.5},
   {"k":"sig","t":"0.024","x1":49.5,"r":4.5},
   {"k":"val","t":"-0.058","x1":66.6,"r":4.5},
   {"k":"val","t":"0.409","x1":83.2,"r":4.5}
  ],
  "tgrid": [
   {"k":"grey","x1":-10,"x2":13,"r1":0,"r2":0},
   {"k":"grey","x1":-10,"x2":-10,"r1":0,"r2":2},
   {"k":"grey","x1":-10,"x2":13,"r1":1,"r2":1},
   {"k":"thin","x1":24.25,"x2":91.75,"r1":1,"r2":1},
   {"k":"thin","x1":41.25,"x2":41.25,"r1":1,"r2":5},
   {"k":"thin","x1":74.5,"x2":74.5,"r1":1,"r2":5},
   {"k":"thin","x1":-10,"x2":91.75,"r1":3,"r2":3},
   {"k":"thin","x1":-10,"x2":91.75,"r1":4,"r2":4},
   {"k":"thick","x1":13,"x2":91.75,"r1":0,"r2":0},
   {"k":"thick","x1":-10,"x2":91.75,"r1":2,"r2":2},
   {"k":"thick","x1":-10,"x2":91.75,"r1":5,"r2":5},
   {"k":"thick","x1":-10,"x2":-10,"r1":2,"r2":5},
   {"k":"thick","x1":13,"x2":13,"r1":0,"r2":5},
   {"k":"thick","x1":24.25,"x2":24.25,"r1":0,"r2":5},
   {"k":"thick","x1":58,"x2":58,"r1":0,"r2":5},
   {"k":"thick","x1":91.75,"x2":91.75,"r1":0,"r2":5}
  ],
  "tleg": [
   {"g":"N","r":2.5},{"g":"O","r":3.5},{"g":"B","r":4.5}
  ]
 },
 "hconcat": [
  {
   "vconcat": [
    {
     "width": 252, "height": 223,
     "layer": [
      {
       "data": {"name": "chao"},
       "mark": {"type": "point", "filled": true, "shape": "circle", "size": 12, "opacity": 1},
       "encoding": {
        "x": {"field": "a", "type": "quantitative", "scale": {"domain": [5.65, 13.35], "nice": false, "zero": false},
              "axis": {"values": [6,7,8,9,10,11,12,13], "labels": false, "title": null, "tickSize": 2.5,
                       "tickColor": {"condition": {"test": "datum.value % 2 === 0", "value": "#333333"}, "value": "transparent"},
                       "gridColor": {"condition": {"test": "datum.value % 2 === 0", "value": "#EBEBEB"}, "value": "#F5F5F5"}}},
        "y": {"field": "v", "type": "quantitative", "scale": {"domain": [357, 1419], "nice": false, "zero": false},
              "axis": {"values": [400,500,600,700,800,900,1000,1100,1200,1300,1400], "format": "d", "labelExpr": "datum.value % 200 === 0 ? datum.label : ''",
                       "title": "Chao richness estimate", "titleFontSize": 9, "titleFontWeight": "bold", "titlePadding": 0,
                       "labelFontSize": 9, "labelPadding": 1, "tickSize": 2.5,
                       "tickColor": {"condition": {"test": "datum.value % 200 === 0", "value": "#333333"}, "value": "transparent"},
                       "gridColor": {"condition": {"test": "datum.value % 200 === 0", "value": "#EBEBEB"}, "value": "#F5F5F5"}}},
        "color": {"field": "g", "type": "nominal", "scale": {"domain": ["N","O","B"], "range": ["#25365E","#F2B24E","#C9303F"]}, "legend": null}
       }
      },
      {
       "data": {"name": "chaoFit"},
       "mark": {"type": "line", "strokeWidth": 1.8, "interpolate": "monotone"},
       "encoding": {
        "x": {"field": "a", "type": "quantitative"},
        "y": {"field": "v", "type": "quantitative"},
        "stroke": {"field": "g", "type": "nominal", "scale": {"domain": ["N","O","B"], "range": ["#2C5590","#F4A934","#BF2330"]}, "legend": null}
       }
      },
      {
       "data": {"values": [{}]},
       "mark": {"type": "text", "font": "Liberation Sans", "fontSize": 17, "color": "#000000"},
       "encoding": {"x": {"datum": 4.31}, "y": {"datum": 1343}, "text": {"value": "a"}}
      },
      {
       "data": {"values": [{}]},
       "mark": {"type": "text", "font": "Liberation Sans", "fontSize": 17, "color": "#000000"},
       "encoding": {"x": {"datum": 4.24}, "y": {"datum": 390}, "text": {"value": "b"}}
      }
     ]
    },
    {
     "width": 252, "height": 204,
     "layer": [
      {
       "data": {"name": "shan"},
       "mark": {"type": "point", "filled": true, "shape": "circle", "size": 12, "opacity": 1},
       "encoding": {
        "x": {"field": "a", "type": "quantitative", "scale": {"domain": [5.65, 13.35], "nice": false, "zero": false},
              "axis": {"values": [6,7,8,9,10,11,12,13], "labelExpr": "datum.value % 2 === 0 ? datum.label : ''",
                       "title": "Age (years)", "titleFontSize": 10, "titleFontWeight": "bold", "titlePadding": 0,
                       "labelFontSize": 9.5, "labelPadding": 1, "tickSize": 2.5,
                       "tickColor": {"condition": {"test": "datum.value % 2 === 0", "value": "#333333"}, "value": "transparent"},
                       "gridColor": {"condition": {"test": "datum.value % 2 === 0", "value": "#EBEBEB"}, "value": "#F5F5F5"}}},
        "y": {"field": "v", "type": "quantitative", "scale": {"domain": [1.79, 7.16], "nice": false, "zero": false},
              "axis": {"values": [2,2.5,3,3.5,4,4.5,5,5.5,6,6.5,7], "labelExpr": "datum.value % 1 === 0 ? datum.label : ''",
                       "title": "Shannon index", "titleFontSize": 9, "titleFontWeight": "bold", "titlePadding": 1.5,
                       "labelFontSize": 9, "labelPadding": 1, "tickSize": 2.5,
                       "tickColor": {"condition": {"test": "datum.value % 1 === 0", "value": "#333333"}, "value": "transparent"},
                       "gridColor": {"condition": {"test": "datum.value % 1 === 0", "value": "#EBEBEB"}, "value": "#F5F5F5"}}},
        "color": {"field": "g", "type": "nominal", "scale": {"domain": ["N","O","B"], "range": ["#25365E","#F2B24E","#C9303F"]}, "legend": null}
       }
      },
      {
       "data": {"name": "shanFit"},
       "mark": {"type": "line", "strokeWidth": 1.8, "interpolate": "monotone"},
       "encoding": {
        "x": {"field": "a", "type": "quantitative"},
        "y": {"field": "v", "type": "quantitative"},
        "stroke": {"field": "g", "type": "nominal", "scale": {"domain": ["N","O","B"], "range": ["#2C5590","#F4A934","#BF2330"]}, "legend": null}
       }
      }
     ]
    }
   ],
   "spacing": 10,
   "bounds": "flush"
  },
  {
   "vconcat": [
    {
     "width": 400, "height": 150,
     "view": {"stroke": null},
     "layer": [
      {
       "data": {"name": "tgrid"},
       "transform": [{"filter": {"field": "k", "equal": "grey"}}],
       "mark": {"type": "rule", "color": "#A6A6A6", "strokeWidth": 1},
       "encoding": {
        "x": {"field": "x1", "type": "quantitative", "scale": {"domain": [0, 100], "nice": false, "zero": false}, "axis": null},
        "x2": {"field": "x2"},
        "y": {"field": "r1", "type": "quantitative", "scale": {"domain": [-1.47, 7.46], "reverse": true, "nice": false, "zero": false}, "axis": null},
        "y2": {"field": "r2"}
       }
      },
      {
       "data": {"name": "tgrid"},
       "transform": [{"filter": {"field": "k", "equal": "thin"}}],
       "mark": {"type": "rule", "color": "#000000", "strokeWidth": 1},
       "encoding": {"x": {"field": "x1", "type": "quantitative"}, "x2": {"field": "x2"}, "y": {"field": "r1", "type": "quantitative"}, "y2": {"field": "r2"}}
      },
      {
       "data": {"name": "tgrid"},
       "transform": [{"filter": {"field": "k", "equal": "thick"}}],
       "mark": {"type": "rule", "color": "#000000", "strokeWidth": 2},
       "encoding": {"x": {"field": "x1", "type": "quantitative"}, "x2": {"field": "x2"}, "y": {"field": "r1", "type": "quantitative"}, "y2": {"field": "r2"}}
      },
      {
       "data": {"name": "tcells"},
       "transform": [{"filter": {"field": "k", "equal": "head"}}],
       "mark": {"type": "text", "font": "Lato", "fontSize": 12.5, "fontWeight": "bold", "color": "#000000"},
       "encoding": {"x": {"field": "x1", "type": "quantitative"}, "y": {"field": "r", "type": "quantitative"}, "text": {"field": "t"}}
      },
      {
       "data": {"name": "tcells"},
       "transform": [{"filter": {"field": "k", "equal": "sub"}}],
       "mark": {"type": "text", "font": "Lato", "fontSize": 12.5, "fontWeight": "bold", "fontStyle": "italic", "color": "#000000"},
       "encoding": {"x": {"field": "x1", "type": "quantitative"}, "y": {"field": "r", "type": "quantitative"}, "text": {"field": "t"}}
      },
      {
       "data": {"name": "tcells"},
       "transform": [{"filter": {"field": "k", "equal": "lab"}}],
       "mark": {"type": "text", "font": "Lato", "fontSize": 12.5, "align": "left", "color": "#000000"},
       "encoding": {"x": {"field": "x1", "type": "quantitative"}, "y": {"field": "r", "type": "quantitative"}, "text": {"field": "t"}}
      },
      {
       "data": {"name": "tcells"},
       "transform": [{"filter": {"field": "k", "equal": "val"}}],
       "mark": {"type": "text", "font": "Lato", "fontSize": 12.5, "color": "#000000"},
       "encoding": {"x": {"field": "x1", "type": "quantitative"}, "y": {"field": "r", "type": "quantitative"}, "text": {"field": "t"}}
      },
      {
       "data": {"name": "tcells"},
       "transform": [{"filter": {"field": "k", "equal": "sig"}}],
       "mark": {"type": "text", "font": "Lato", "fontSize": 12.5, "fontWeight": "bold", "color": "#000000"},
       "encoding": {"x": {"field": "x1", "type": "quantitative"}, "y": {"field": "r", "type": "quantitative"}, "text": {"field": "t"}}
      },
      {
       "data": {"name": "tleg"},
       "mark": {"type": "rule", "strokeWidth": 2},
       "encoding": {
        "x": {"datum": -15.5}, "x2": {"datum": -12},
        "y": {"field": "r", "type": "quantitative"},
        "stroke": {"field": "g", "type": "nominal", "scale": {"domain": ["N","O","B"], "range": ["#2C5590","#F4A934","#BF2330"]}, "legend": null}
       }
      },
      {
       "data": {"name": "tleg"},
       "mark": {"type": "point", "filled": true, "shape": "circle", "size": 14, "opacity": 1},
       "encoding": {
        "x": {"datum": -13.75},
        "y": {"field": "r", "type": "quantitative"},
        "color": {"field": "g", "type": "nominal", "scale": {"domain": ["N","O","B"], "range": ["#25365E","#F2B24E","#C9303F"]}, "legend": null}
       }
      },
      {
       "data": {"values": [{}]},
       "mark": {"type": "text", "font": "Liberation Sans", "fontSize": 17, "color": "#000000"},
       "encoding": {"x": {"datum": -7.25}, "y": {"datum": 12.2}, "text": {"value": "c"}}
      }
     ]
    },
    {
     "width": 398, "height": 262,
     "title": {"text": "Rho = 0.1581,  P= 8.26 x 10⁻⁵", "anchor": "end", "font": "Lato", "fontSize": 13, "fontWeight": "normal", "color": "#111111", "offset": 7, "dx": -15},
     "encoding": {
      "x": {"field": "cat", "type": "nominal",
            "scale": {"domain": ["5 - 7","8 - 10","11 - 12","> 18"], "paddingInner": 0.253, "paddingOuter": 0.2265},
            "axis": {"title": "Age (years)", "titleFont": "Lato", "titleFontSize": 11, "titleFontWeight": "normal", "titlePadding": 3,
                     "labelFont": "Lato", "labelFontSize": 14, "labelColor": "#1A1A1A", "labelAngle": 0, "labelPadding": 3,
                     "bandPosition": 0.5, "grid": true, "gridColor": "#EBEBEB", "tickSize": 4}}
     },
     "layer": [
      {
       "data": {"name": "boxes"},
       "mark": {"type": "rule", "color": "#595959", "strokeWidth": 1},
       "encoding": {
        "y": {"field": "lo", "type": "quantitative", "scale": {"domain": [1.95, 7.55], "nice": false, "zero": false},
              "axis": {"values": [2,2.5,3,3.5,4,4.5,5,5.5,6,6.5,7,7.5], "labelExpr": "datum.value % 1 === 0 ? datum.label : ''",
                       "title": "Diversity (Shannon index)", "titleFont": "Lato", "titleFontSize": 11, "titleFontWeight": "normal", "titlePadding": 6,
                       "labelFont": "Lato", "labelFontSize": 12, "labelPadding": 3, "tickSize": 4,
                       "tickColor": {"condition": {"test": "datum.value % 1 === 0", "value": "#333333"}, "value": "transparent"},
                       "gridColor": {"condition": {"test": "datum.value % 1 === 0", "value": "#EBEBEB"}, "value": "#F5F5F5"}}},
        "y2": {"field": "hi"}
       }
      },
      {
       "data": {"name": "boxes"},
       "mark": {"type": "bar", "stroke": "#4D4D4D", "strokeWidth": 1},
       "encoding": {
        "y": {"field": "q1", "type": "quantitative"},
        "y2": {"field": "q3"},
        "fill": {"field": "cat", "type": "nominal", "scale": {"domain": ["5 - 7","8 - 10","11 - 12","> 18"], "range": ["#EFEFF7","#BDD7E7","#6BAED6","#2171B5"]}, "legend": null}
       }
      },
      {
       "data": {"name": "boxes"},
       "mark": {"type": "tick", "color": "#1A1A1A", "thickness": 1.5, "size": 71, "opacity": 1},
       "encoding": {"y": {"field": "med", "type": "quantitative"}}
      },
      {
       "data": {"name": "outl"},
       "mark": {"type": "circle", "color": "#111111", "size": 10, "opacity": 1},
       "encoding": {"y": {"field": "v", "type": "quantitative"}}
      }
     ]
    }
   ],
   "spacing": 27,
   "bounds": "flush"
  }
 ],
 "spacing": 29,
 "config": {
  "view": {"stroke": "#C4C4C4"},
  "axis": {"domain": false, "labelFont": "Liberation Sans", "titleFont": "Liberation Sans", "labelColor": "#4D4D4D", "titleColor": "#000000", "tickColor": "#333333", "gridWidth": 0.8}
 }
}
